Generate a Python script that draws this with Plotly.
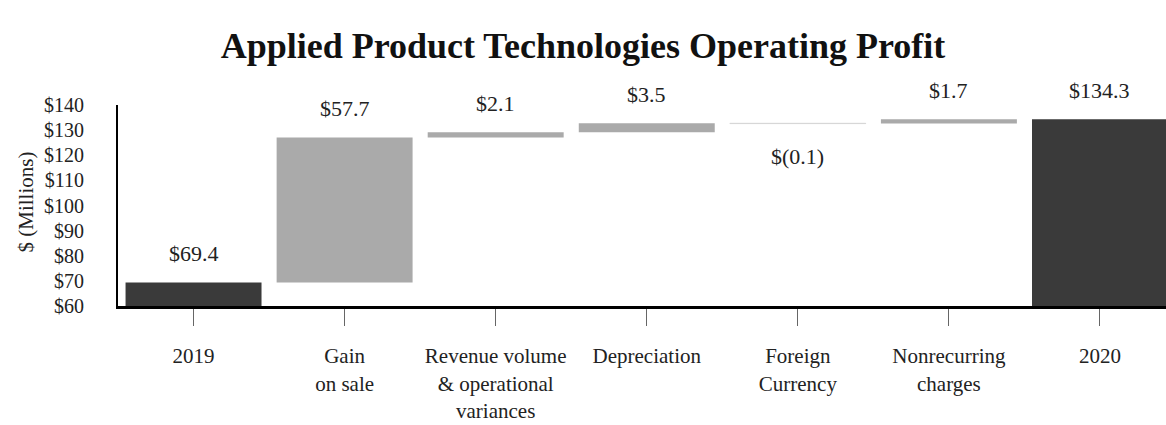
import plotly.graph_objects as go

categories = ["2019", "Gain<br>on sale", "Revenue volume<br>& operational<br>variances",
              "Depreciation", "Foreign<br>Currency", "Nonrecurring<br>charges", "2020"]
measures = ["absolute", "relative", "relative", "relative", "relative", "relative", "total"]
values = [69.4, 57.7, 2.1, 3.5, -0.1, 1.7, 134.3]
labels = ["$69.4", "$57.7", "$2.1", "$3.5", "$(0.1)", "$1.7", "$134.3"]
y_ticks = [60, 70, 80, 90, 100, 110, 120, 130, 140]
y_ticklabels = ["$" + str(v) for v in y_ticks]

FONT = "Liberation Serif"
DARK = "#3a3a3a"
GRAY = "#aaaaaa"

fig = go.Figure()
fig.add_trace(go.Waterfall(
    x=categories, y=values, measure=measures,
    connector=dict(visible=False),
    increasing=dict(marker=dict(color=GRAY)),
    decreasing=dict(marker=dict(color="#d6d6d6", line=dict(color="#d6d6d6", width=1))),
    totals=dict(marker=dict(color=DARK)),
    showlegend=False, hoverinfo="skip",
))

# value labels placed relative to each bar's end
running = 0.0
annotations = []
for i, (m, v, lab) in enumerate(zip(measures, values, labels)):
    if m in ("absolute", "total"):
        running = v
        neg = False
    else:
        running += v
        neg = v < 0
    annotations.append(dict(
        x=i, y=running, xref="x", yref="y", text=lab, showarrow=False,
        yanchor="middle", yshift=(-33 if neg else 29),
        font=dict(family=FONT, size=22, color="#222222"),
    ))

annotations.append(dict(
    text="$ (Millions)", textangle=-90, xref="paper", yref="paper",
    x=-0.0878, y=0.52, xanchor="center", yanchor="middle", showarrow=False,
    font=dict(family=FONT, size=21, color="#222222"),
))

fig.update_layout(
    width=1166, height=425,
    margin=dict(l=118, r=0, t=105, b=119),
    paper_bgcolor="white", plot_bgcolor="white",
    waterfallgap=0.1,
    title=dict(text="<b>Applied Product Technologies Operating Profit</b>",
               x=0.5, xref="container", xanchor="center",
               y=1 - 45 / 425, yref="container", yanchor="middle",
               font=dict(family=FONT, size=36, color="#111111")),
    annotations=annotations,
)
fig.update_xaxes(
    type="category",
    range=[-0.5, 6.437], showgrid=False, showline=True, linecolor="black", linewidth=3,
    ticks="outside", ticklen=17, tickcolor="#666666", tickwidth=1,
    tickfont=dict(family=FONT, size=21, color="#222222"),
    ticklabelstandoff=12,
)
fig.update_yaxes(
    range=[60, 140], showgrid=False, showline=True, linecolor="black", linewidth=2,
    tickvals=y_ticks, ticktext=y_ticklabels, ticks="", zeroline=False,
    tickfont=dict(family=FONT, size=20, color="#222222"),
    ticklabelstandoff=28,
)

fig.write_html("out.html")
